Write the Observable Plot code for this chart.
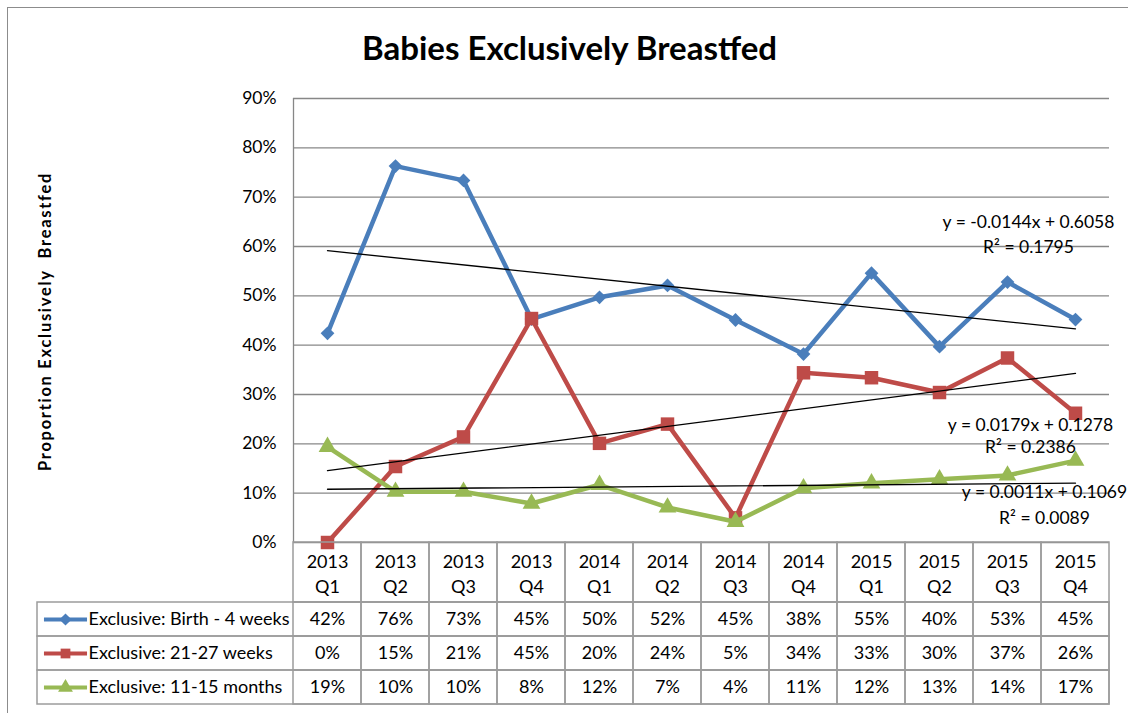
<!DOCTYPE html>
<html><head><meta charset="utf-8">
<script src="https://cdn.jsdelivr.net/npm/d3@7"></script>
<script src="https://cdn.jsdelivr.net/npm/@observablehq/plot@0.6"></script>
<style>
body{margin:0;background:#fff;font-family:Lato,sans-serif;}
#wrap{position:relative;width:1128px;height:713px;overflow:hidden;background:#fff;}
#frame{position:absolute;left:7px;top:7px;width:1140px;height:720px;border:1.5px solid #8c8c8c;}
#title{position:absolute;left:0;width:1139px;top:29px;line-height:36px;text-align:center;font-weight:700;font-size:33px;color:#000}
.layer{position:absolute;left:0;}
.layer svg{overflow:visible;background:transparent}
</style></head><body>
<div id="wrap"><div id="frame"></div><div id="title">Babies Exclusively Breastfed</div>
<div id="chart" class="layer" style="top:0"></div>
<div id="head" class="layer" style="top:542px"></div>
<div id="body" class="layer" style="top:602px"></div>
</div>
<script>
// ---- data ----
const quarters = ["2013 Q1","2013 Q2","2013 Q3","2013 Q4","2014 Q1","2014 Q2","2014 Q3","2014 Q4","2015 Q1","2015 Q2","2015 Q3","2015 Q4"];
const seriesNames = ["Exclusive: Birth - 4 weeks","Exclusive: 21-27 weeks","Exclusive: 11-15 months"];
const birthTo4Weeks = [0.424,0.763,0.734,0.453,0.497,0.521,0.451,0.382,0.546,0.397,0.528,0.452];
const weeks21to27   = [0.000,0.154,0.214,0.454,0.201,0.240,0.050,0.344,0.334,0.304,0.374,0.262];
const months11to15  = [0.194,0.103,0.103,0.079,0.117,0.071,0.042,0.110,0.120,0.128,0.136,0.166];
const trendEquations = ["y = -0.0144x + 0.6058","y = 0.0179x + 0.1278","y = 0.0011x + 0.1069"];
const trendR2 = ["R² = 0.1795","R² = 0.2386","R² = 0.0089"];
const yTickValues = [0,0.1,0.2,0.3,0.4,0.5,0.6,0.7,0.8,0.9];
const yAxisTitle = "Proportion Exclusively  Breastfed";

// ---- styles ----
const colors = ["#4A7EBB","#BE4B48","#98B954"];
const symbols = ["diamond2","square","triangle"];
const symbolR = [6.2,7.6,6.6];
const gridColor = "#878787";
const tableColor = "#9c9c9c";
const font = "Lato, sans-serif";

const values = [birthTo4Weeks, weeks21to27, months11to15];
const rows = [];
values.forEach((vals,k)=>vals.forEach((v,i)=>rows.push({i:i+1, quarter:quarters[i], series:seriesNames[k], k, value:v})));
const n = quarters.length;
const xDomain = [0.5, n + 0.5];

function fit(vals){
  const xs = vals.map((_,i)=>i+1);
  const mx = d3.mean(xs), my = d3.mean(vals);
  const b = d3.sum(xs,(x,i)=>(x-mx)*(vals[i]-my)) / d3.sum(xs,x=>(x-mx)**2);
  return {a: my - b*mx, b};
}
const fits = values.map(fit);
const endFit = fits.map(f => f.a + f.b*n);

const labelOffsets = [ {dx:-47, dy1:-106, dy2:-81}, {dx:-45, dy1:52, dy2:74}, {dx:-31, dy1:9, dy2:35} ];

const seriesMarks = [];
values.forEach((vals,k)=>{
  const data = rows.filter(r=>r.k===k);
  seriesMarks.push(Plot.line(data,{x:"i",y:"value",stroke:colors[k],strokeWidth:4.5,strokeLinejoin:"round"}));
  seriesMarks.push(Plot.dot(data,{x:"i",y:"value",symbol:symbols[k],fill:colors[k],stroke:null,r:symbolR[k]}));
});
const labelMarks = [];
fits.forEach((f,k)=>{
  const o = labelOffsets[k];
  labelMarks.push(Plot.text([trendEquations[k]],{x:()=>n,y:()=>endFit[k],text:d=>d,dx:o.dx,dy:o.dy1,fontSize:17.5,fill:"#000"}));
  labelMarks.push(Plot.text([trendR2[k]],{x:()=>n,y:()=>endFit[k],text:d=>d,dx:o.dx,dy:o.dy2,fontSize:17.5,fill:"#000"}));
});

const chart = Plot.plot({
  width:1128, height:543, marginTop:98, marginBottom:1, marginLeft:293, marginRight:19,
  style:{fontFamily:font, fontSize:"17px", color:"#000", background:"transparent", overflow:"visible"},
  x:{domain:xDomain, axis:null},
  y:{domain:[0,0.9], axis:null},
  marks:[
    Plot.gridY(yTickValues,{stroke:gridColor,strokeOpacity:1,strokeWidth:1.3}),
    Plot.ruleX([xDomain[0]],{stroke:gridColor,strokeWidth:1.3}),
    Plot.axisY(yTickValues,{tickSize:0,tickPadding:17,tickFormat:d3.format(".0%"),fontSize:17.5,label:null}),
    Plot.text([yAxisTitle],{frameAnchor:"left",dx:-248,dy:1,rotate:-90,textAnchor:"middle",text:d=>d,fontWeight:"bold",fontSize:16.5,fill:"#000"}),
    ...seriesMarks,
    Plot.linearRegressionY(rows,{x:"i",y:"value",z:"series",stroke:"#000",ci:0,strokeWidth:1.3}),
    ...labelMarks
  ]
});
// widen the letter spacing of the axis title, as in the reference
d3.select(chart).selectAll("text").filter(function(){return this.textContent === yAxisTitle;}).style("letter-spacing","1.7px");
document.getElementById("chart").append(chart);

// header row of data table
const head = Plot.plot({
  width:1128, height:60, marginTop:0, marginBottom:0, marginLeft:37, marginRight:19,
  style:{fontFamily:font, fontSize:"18px", color:"#000", background:"transparent", overflow:"visible"},
  x:{domain:xDomain, range:[293,1109], axis:null},
  marks:[
    Plot.barX(quarters,{x1:(d,i)=>i+0.5,x2:(d,i)=>i+1.5,fill:"none",stroke:tableColor,strokeWidth:1.5}),
    Plot.text(quarters,{x:(d,i)=>i+1,text:d=>d.replace(" ","\n"),frameAnchor:"middle",lineHeight:1.4,fontSize:18,fill:"#000"})
  ]
});
document.getElementById("head").append(head);

// body rows of data table
const lineSymbol = {draw(ctx,size){const w=Math.sqrt(size);ctx.moveTo(-w/2,0);ctx.lineTo(w/2,0);}};
const fmt = d3.format(".0%");
const body = Plot.plot({
  width:1128, height:102, marginTop:0, marginBottom:0, marginLeft:37, marginRight:19,
  style:{fontFamily:font, fontSize:"18px", color:"#000", background:"transparent", overflow:"visible"},
  x:{domain:xDomain, range:[293,1109], axis:null},
  y:{type:"band", domain:seriesNames, padding:0, axis:null},
  marks:[
    Plot.cell(seriesNames,{y:d=>d,fill:"none",stroke:tableColor,strokeWidth:1.5}),
    Plot.barX(rows,{x1:d=>d.i-0.5,x2:d=>d.i+0.5,y:"series",fill:"none",stroke:tableColor,strokeWidth:1.5}),
    Plot.text(rows,{x:"i",y:"series",text:d=>fmt(d.value),fontSize:18,fill:"#000"}),
    Plot.dot(seriesNames,{y:d=>d,frameAnchor:"left",dx:28,symbol:lineSymbol,r:24.3,fill:"none",stroke:(d,i)=>colors[i],strokeWidth:4}),
    Plot.dot(seriesNames,{y:d=>d,frameAnchor:"left",dx:28,symbol:(d,i)=>symbols[i],fill:(d,i)=>colors[i],stroke:null,r:5.5}),
    Plot.text(seriesNames,{y:d=>d,text:d=>d,frameAnchor:"left",dx:51,textAnchor:"start",fontSize:18,fill:"#000"})
  ]
});
document.getElementById("body").append(body);
</script>
</body></html>
